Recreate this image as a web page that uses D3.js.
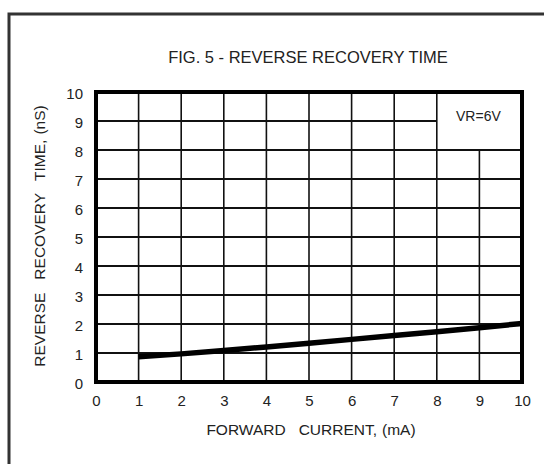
<!DOCTYPE html>
<html>
<head>
<meta charset="utf-8">
<script src="https://cdn.jsdelivr.net/npm/d3@7"></script>
<style>
  body { margin: 0; background: white; }
  svg { display: block; font-family: "Liberation Sans", Arial, sans-serif; }
</style>
</head>
<body>
<div id="chart"></div>
<script>
// data
const currentMA = [1, 2, 3, 4, 5, 6, 7, 8, 9, 10];
const recoveryNS = [0.87, 0.97, 1.09, 1.21, 1.34, 1.47, 1.6, 1.73, 1.87, 2.02];
const xTicks = [0, 1, 2, 3, 4, 5, 6, 7, 8, 9, 10];
const yTicks = [0, 1, 2, 3, 4, 5, 6, 7, 8, 9, 10];
const legendBox = { x0: 8, x1: 10, y0: 8, y1: 10, label: "VR=6V" };
const xTitleWords = ["FORWARD", "CURRENT,", "(mA)"];
const yTitleWords = ["REVERSE", "RECOVERY", "TIME,", "(nS)"];

const width = 544, height = 464;
const margins = [96, 22, 82, 92]; // left, right, bottom, top

const svg = d3.select("#chart")
    .append("svg")
    .attr("width", width)
    .attr("height", height);

// outer frame (only left and top edges visible)
svg.append("path")
    .attr("d", "M9," + height + " L9,14 L" + width + ",14")
    .attr("fill", "none")
    .attr("stroke", "#333")
    .attr("stroke-width", 3);

const x = d3.scaleLinear().domain([0, 10]).range([margins[0], width - margins[1]]);
const y = d3.scaleLinear().domain([0, 10]).range([height - margins[2], margins[3]]);

// title
svg.append("text")
    .attr("x", 308)
    .attr("y", 63)
    .attr("text-anchor", "middle")
    .style("font-size", "16.5px")
    .attr("fill", "#222")
    .text("FIG. 5 - REVERSE RECOVERY TIME");

const grid = svg.append("g").attr("class", "grid");

// vertical grid lines, stopping under the legend box
grid.selectAll("line.v")
    .data(xTicks.slice(1, -1))
    .enter()
        .append("line")
        .attr("class", "v")
        .attr("x1", d => x(d))
        .attr("x2", d => x(d))
        .attr("y1", y(0))
        .attr("y2", d => (d > legendBox.x0 && d < legendBox.x1) ? y(legendBox.y0) : y(10))
        .attr("stroke", "#111")
        .attr("stroke-width", 1.6);

// horizontal grid lines
grid.selectAll("line.h")
    .data(yTicks.slice(1, -1))
    .enter()
        .append("line")
        .attr("class", "h")
        .attr("x1", x(0))
        .attr("x2", d => (d > legendBox.y0 && d < legendBox.y1) ? x(legendBox.x0) : x(10))
        .attr("y1", d => y(d))
        .attr("y2", d => y(d))
        .attr("stroke", "#111")
        .attr("stroke-width", 2);

// curve
const line = d3.line()
    .x(d => x(d[0]))
    .y(d => y(d[1]));

svg.append("path")
    .datum(d3.zip(currentMA, recoveryNS))
    .attr("d", line)
    .attr("fill", "none")
    .attr("stroke", "#000")
    .attr("stroke-width", 5.5);

// plot border
svg.append("rect")
    .attr("x", x(0))
    .attr("y", y(10))
    .attr("width", x(10) - x(0))
    .attr("height", y(0) - y(10))
    .attr("fill", "none")
    .attr("stroke", "#000")
    .attr("stroke-width", 4);

// legend label
svg.append("text")
    .attr("x", x((legendBox.x0 + legendBox.x1) / 2) - 1)
    .attr("y", y((legendBox.y0 + legendBox.y1) / 2))
    .attr("text-anchor", "middle")
    .style("font-size", "14px")
    .attr("fill", "#222")
    .text(legendBox.label);

// axes
const xAxis = d3.axisBottom(x).tickValues(xTicks).tickSize(0).tickPadding(13);
const yAxis = d3.axisLeft(y).tickValues(yTicks).tickSize(0).tickPadding(13);

svg.append("g")
    .attr("class", "axis xAxis")
    .attr("transform", "translate(0, " + y(0) + ")")
    .call(xAxis)
    .call(g => g.select(".domain").remove());

svg.append("g")
    .attr("class", "axis yAxis")
    .attr("transform", "translate(" + x(0) + ", 0)")
    .call(yAxis)
    .call(g => g.select(".domain").remove());

svg.selectAll(".axis .tick text")
    .style("font-size", "15px")
    .style("font-family", "\"Liberation Sans\", Arial, sans-serif")
    .attr("fill", "#222");
svg.selectAll(".yAxis .tick text").attr("dy", "0.45em");

// axis titles, words split so the wide gaps of the original can be kept
const xGaps = [0, 13, 5];
svg.append("text")
    .attr("x", 311)
    .attr("y", 435)
    .attr("text-anchor", "middle")
    .style("font-size", "15.5px")
    .attr("fill", "#222")
    .selectAll("tspan")
    .data(xTitleWords)
    .enter()
        .append("tspan")
        .attr("dx", (d, i) => xGaps[i])
        .text(d => d);

const yGaps = [0, 13, 12, 5];
svg.append("text")
    .attr("transform", "translate(45, 236) rotate(-90)")
    .attr("text-anchor", "middle")
    .style("font-size", "15.5px")
    .attr("fill", "#222")
    .selectAll("tspan")
    .data(yTitleWords)
    .enter()
        .append("tspan")
        .attr("dx", (d, i) => yGaps[i])
        .text(d => d);
</script>
</body>
</html>
